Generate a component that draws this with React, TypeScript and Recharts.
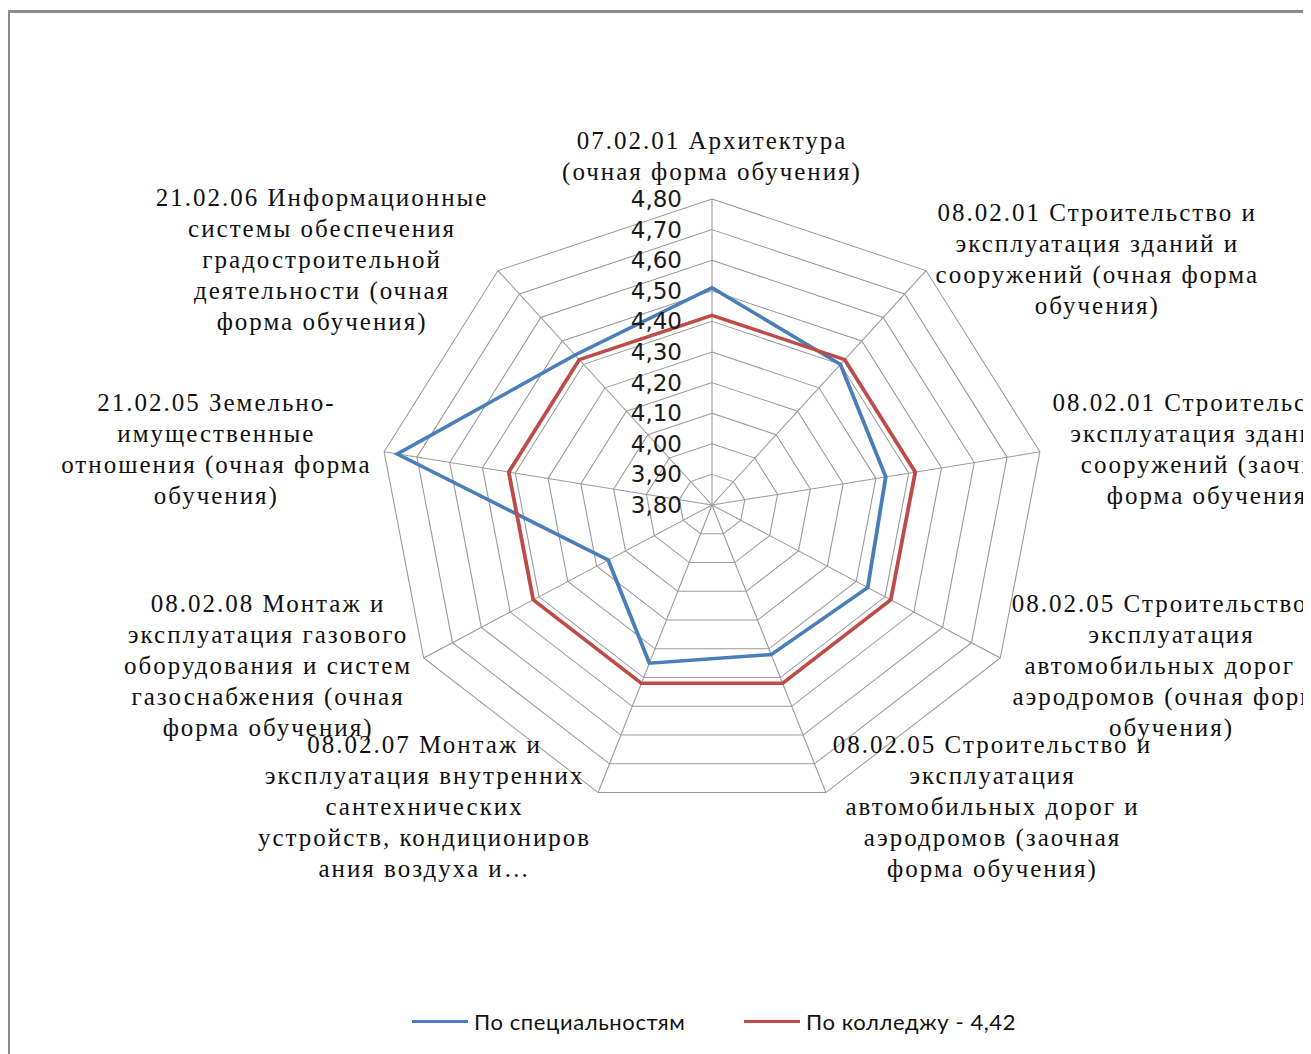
import React from 'react'
import { RadarChart, Radar, PolarGrid, PolarAngleAxis, PolarRadiusAxis } from 'recharts'

// axis names, one text line per row (as in the source chart)
const categories = [
  '07.02.01 Архитектура\n(очная форма обучения)',
  '08.02.01 Строительство и\nэксплуатация зданий и\nсооружений (очная форма\nобучения)',
  '08.02.01 Строительство и\nэксплуатация зданий и\nсооружений (заочная\nформа обучения)',
  '08.02.05 Строительство и\nэксплуатация\nавтомобильных дорог и\nаэродромов (очная форма\nобучения)',
  '08.02.05 Строительство и\nэксплуатация\nавтомобильных дорог и\nаэродромов (заочная\nформа обучения)',
  '08.02.07 Монтаж и\nэксплуатация внутренних\nсантехнических\nустройств, кондициониров\nания воздуха и…',
  '08.02.08 Монтаж и\nэксплуатация газового\nоборудования и систем\nгазоснабжения (очная\nформа обучения)',
  '21.02.05 Земельно-\nимущественные\nотношения (очная форма\nобучения)',
  '21.02.06 Информационные\nсистемы обеспечения\nградостроительной\nдеятельности (очная\nформа обучения)',
]

const specialtyScores = [4.51, 4.4, 4.33, 4.34, 4.32, 4.35, 4.16, 4.76, 4.44]
const collegeScores = [4.42, 4.42, 4.42, 4.42, 4.42, 4.42, 4.42, 4.42, 4.42]

const seriesNames = ['По специальностям', 'По колледжу - 4,42']
const seriesColors = ['#4a7ebb', '#be4b48']

const scoreDomain = [3.8, 4.8]
const scoreTicks = [3.8, 3.9, 4.0, 4.1, 4.2, 4.3, 4.4, 4.5, 4.6, 4.7, 4.8]

const data = categories.map((name, i) => ({
  name,
  spec: specialtyScores[i],
  college: collegeScores[i],
}))

// the original plot is a bit wider than tall, so the svg gets stretched on x
// and the texts are squeezed back
const SX = 1.088
const CX = 704
const CY = 497
const R = 306

const LABEL_FONT = '"Liberation Serif", "Times New Roman", serif'
const LABEL_SIZE = 25
const LABEL_SPACING = 2
const LINE_H = 31

let ctx: CanvasRenderingContext2D | null = null
function textWidth(s: string) {
  if (!ctx) ctx = document.createElement('canvas').getContext('2d')
  if (!ctx) return s.length * 14
  ctx.font = `${LABEL_SIZE}px ${LABEL_FONT}`
  return ctx.measureText(s).width + s.length * LABEL_SPACING
}

function AngleTick(props: any) {
  const { x, y, payload } = props
  const lines: string[] = String(payload.value).split('\n')
  const dx = x - CX
  const dy = y - CY
  const r = Math.hypot(dx, dy) || 1
  const sin = dx / r
  const cos = -dy / r
  const maxW = Math.max(...lines.map(textWidth))
  let tx = 0
  let centers: number[]
  if (Math.abs(sin) < 0.1) {
    centers = lines.map((_, i) => -20 - (lines.length - 1 - i) * LINE_H)
  } else {
    tx = sin > 0 ? 4 + maxW / 2 : -(4 + maxW / 2)
    const mid = -6.5 * cos
    centers = lines.map((_, i) => mid + (i - (lines.length - 1) / 2) * LINE_H)
  }
  return (
    <g transform={`translate(${x},${y}) scale(${1 / SX},1)`}>
      {lines.map((ln, i) => (
        <text
          key={i}
          x={tx}
          y={centers[i]}
          textAnchor="middle"
          dominantBaseline="central"
          fontFamily={LABEL_FONT}
          fontSize={LABEL_SIZE}
          letterSpacing={LABEL_SPACING}
          fill="#111"
        >
          {ln}
        </text>
      ))}
    </g>
  )
}

function RadiusTick(props: any) {
  const { x, y, payload } = props
  return (
    <g transform={`translate(${x},${y}) scale(${1 / SX},1)`}>
      <text
        x={-30}
        y={0}
        textAnchor="end"
        dominantBaseline="central"
        fontFamily='"DejaVu Sans", sans-serif'
        fontSize={23}
        fill="#1a1a1a"
      >
        {Number(payload.value).toFixed(2).replace('.', ',')}
      </text>
    </g>
  )
}

export default function App() {
  return (
    <div style={{ position: 'relative', width: 1303, height: 1046 }}>
      <style>{'html,body{overflow:hidden}'}</style>
      <div
        style={{
          position: 'absolute',
          left: -1,
          top: 2,
          width: 1320,
          height: 1100,
          borderTop: '3px solid #8c8c8c',
          borderLeft: '3px solid #8c8c8c',
        }}
      />
      <div
        style={{
          position: 'absolute',
          left: 0,
          top: 0,
          transform: `scaleX(${SX})`,
          transformOrigin: `${CX}px 0px`,
        }}
      >
        <RadarChart width={1303} height={1000} data={data} cx={CX} cy={CY} outerRadius={R} startAngle={90} endAngle={-270}>
          <PolarGrid gridType="polygon" stroke="#9a9a9a" strokeWidth={1} />
          <PolarAngleAxis dataKey="name" tick={<AngleTick />} tickLine={false} axisLine={false} />
          <Radar
            name={seriesNames[0]}
            dataKey="spec"
            stroke={seriesColors[0]}
            strokeWidth={3.5}
            fill="none"
            fillOpacity={0}
            dot={false}
            isAnimationActive={false}
          />
          <Radar
            name={seriesNames[1]}
            dataKey="college"
            stroke={seriesColors[1]}
            strokeWidth={3.5}
            fill="none"
            fillOpacity={0}
            dot={false}
            isAnimationActive={false}
          />
          <PolarRadiusAxis
            angle={90}
            domain={scoreDomain}
            ticks={scoreTicks}
            allowDecimals
            allowDataOverflow
            type="number"
            tickCount={11}
            axisLine={false}
            tickLine={false}
            tick={<RadiusTick />}
          />
        </RadarChart>
      </div>
      {seriesNames.map((name, i) => (
        <div
          key={name}
          style={{
            position: 'absolute',
            left: i === 0 ? 404 : 736,
            top: 1000,
            display: 'flex',
            alignItems: 'center',
            height: 26,
            fontFamily: 'Lato, sans-serif',
            fontSize: 22,
            letterSpacing: 0.6,
            color: '#111',
            whiteSpace: 'nowrap',
          }}
        >
          <span style={{ display: 'inline-block', width: 56, height: 3, background: seriesColors[i], marginRight: 6 }} />
          {name}
        </div>
      ))}
    </div>
  )
}
